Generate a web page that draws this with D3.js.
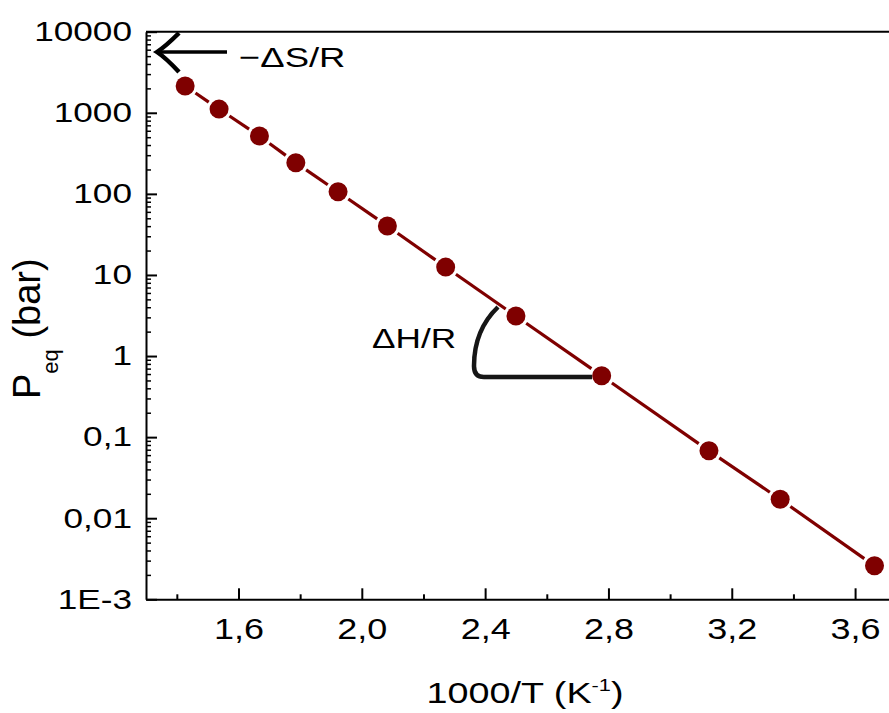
<!DOCTYPE html>
<html>
<head>
<meta charset="utf-8">
<script src="https://cdn.jsdelivr.net/npm/d3@7"></script>
<style>
  html, body { margin: 0; padding: 0; background: #fff; }
  svg { display: block; }
  text { font-family: "Liberation Sans", Arial, sans-serif; fill: #000; }
</style>
</head>
<body>
<svg id="chart" width="889" height="713"></svg>
<script>
// ---- data ----
const invT = [1.427, 1.537, 1.668, 1.786, 1.923, 2.083, 2.272, 2.500, 2.778, 3.126, 3.357, 3.663];
const peq  = [2140, 1110, 517, 242, 106, 40.1, 12.5, 3.11, 0.571, 0.0679, 0.0171, 0.00259];

const xTickValues = [1.6, 2.0, 2.4, 2.8, 3.2, 3.6];
const xTickLabels = ["1,6", "2,0", "2,4", "2,8", "3,2", "3,6"];
const xMinorValues = [1.4, 1.8, 2.2, 2.6, 3.0, 3.4];
const yTickValues = [1e-3, 1e-2, 1e-1, 1, 10, 100, 1000, 10000];
const yTickLabels = ["1E-3", "0,01", "0,1", "1", "10", "100", "1000", "10000"];

const xTitle = "1000/T (K";
const yTitle = "P";

const svg = d3.select("#chart");
const pLeft = 146, pRight = 889, pTop = 31.7, pBottom = 599.3;
const SX = 1.28;
const red = "#7f0000";

const x = d3.scaleLinear().domain([1.3, 3.71]).range([pLeft, pRight]);
const y = d3.scaleLog().domain([1e-3, 1e4]).range([pBottom, pTop]);

// log minor ticks
const yMinor = [];
for (let e = -3; e < 4; e++) for (let m = 2; m <= 9; m++) yMinor.push(m * Math.pow(10, e));

// top frame line
svg.append("line").attr("x1", pLeft).attr("x2", pRight).attr("y1", pTop).attr("y2", pTop)
  .attr("stroke", "#000").attr("stroke-width", 2);

// bottom axis
const gx = svg.append("g").attr("transform", `translate(0,${pBottom})`);
gx.call(d3.axisBottom(x).tickValues(xTickValues).tickSize(-11).tickSizeOuter(0)
  .tickFormat((d, i) => xTickLabels[i]));
gx.select(".domain").attr("stroke-width", 2);
gx.selectAll(".tick line").attr("stroke-width", 2);
gx.selectAll(".tick text").attr("y", null).attr("dy", null)
  .attr("transform", `translate(0,40) scale(1.22,1)`)
  .attr("font-size", 29.5).attr("font-family", null);
const gxm = svg.append("g").attr("transform", `translate(0,${pBottom})`);
gxm.call(d3.axisBottom(x).tickValues(xMinorValues).tickSize(-5).tickFormat(""));
gxm.select(".domain").remove();
gxm.selectAll(".tick line").attr("stroke-width", 2);

// left axis
const gy = svg.append("g").attr("transform", `translate(${pLeft},0)`);
gy.call(d3.axisLeft(y).tickValues(yTickValues).tickSize(-11).tickSizeOuter(0)
  .tickFormat((d, i) => yTickLabels[i]));
gy.select(".domain").attr("stroke-width", 2);
gy.selectAll(".tick line").attr("stroke-width", 2);
gy.selectAll(".tick text").attr("x", null)
  .attr("transform", `translate(-14,0) scale(${SX},1)`)
  .attr("font-size", 27.5).attr("font-family", null);
const gym = svg.append("g").attr("transform", `translate(${pLeft},0)`);
gym.call(d3.axisLeft(y).tickValues(yMinor).tickSize(-5).tickFormat(""));
gym.select(".domain").remove();
gym.selectAll(".tick line").attr("stroke-width", 1.5);

// connecting line with gaps around markers
const r = 9.5, gap = 3;
const pts = invT.map((v, i) => [x(v), y(peq[i])]);
const segs = d3.pairs(pts);
svg.append("g").selectAll("line").data(segs).join("line")
  .each(function (s) {
    const [a, b] = s;
    const dx = b[0] - a[0], dy = b[1] - a[1], L = Math.hypot(dx, dy);
    const ux = dx / L, uy = dy / L, o = r + gap;
    d3.select(this).attr("x1", a[0] + ux * o).attr("y1", a[1] + uy * o)
      .attr("x2", b[0] - ux * o).attr("y2", b[1] - uy * o);
  })
  .attr("stroke", red).attr("stroke-width", 3.2);

svg.append("g").selectAll("circle").data(invT).join("circle")
  .attr("cx", d => x(d)).attr("cy", (d, i) => y(peq[i])).attr("r", r).attr("fill", red);

// arrow for -ΔS/R
svg.append("line").attr("x1", 159).attr("x2", 227).attr("y1", 52).attr("y2", 52)
  .attr("stroke", "#000").attr("stroke-width", 3.5);
svg.append("path").attr("d", "M179,33 Q166,46 157,52 Q166,58 179,72")
  .attr("fill", "none").attr("stroke", "#000").attr("stroke-width", 4.5)
  .attr("stroke-linejoin", "miter");
svg.append("text").attr("transform", `translate(239,66.7) scale(${SX},1)`)
  .attr("font-size", 28.5).text("\u2212\u0394S/R");

// ΔH/R angle annotation
const defs = svg.append("defs");
defs.append("filter").attr("id", "soft").append("feGaussianBlur").attr("stdDeviation", 0.7);
svg.append("path").attr("d", "M498,307 Q474,330 474,366 Q474,377 484,377 L592,377")
  .attr("fill", "none").attr("stroke", "#141414").attr("stroke-width", 4.5)
  .attr("filter", "url(#soft)");
svg.append("text").attr("transform", `translate(372,348) scale(${SX},1)`)
  .attr("font-size", 27.5).text("\u0394H/R");

// axis titles
const xt = svg.append("text").attr("transform", `translate(525,703) scale(${SX},1)`)
  .attr("text-anchor", "middle").attr("font-size", 29.5);
xt.append("tspan").text(xTitle);
xt.append("tspan").attr("font-size", 17).attr("dy", -12).text("-1");
xt.append("tspan").attr("dy", 12).text(")");

const yt = svg.append("text").attr("transform", "rotate(-90)")
  .attr("x", -399).attr("y", 40).attr("font-size", 38);
yt.append("tspan").text(yTitle);
yt.append("tspan").attr("font-size", 22).attr("dy", 18).text("eq");
yt.append("tspan").attr("dy", -18).text(" (bar)");
</script>
</body>
</html>
